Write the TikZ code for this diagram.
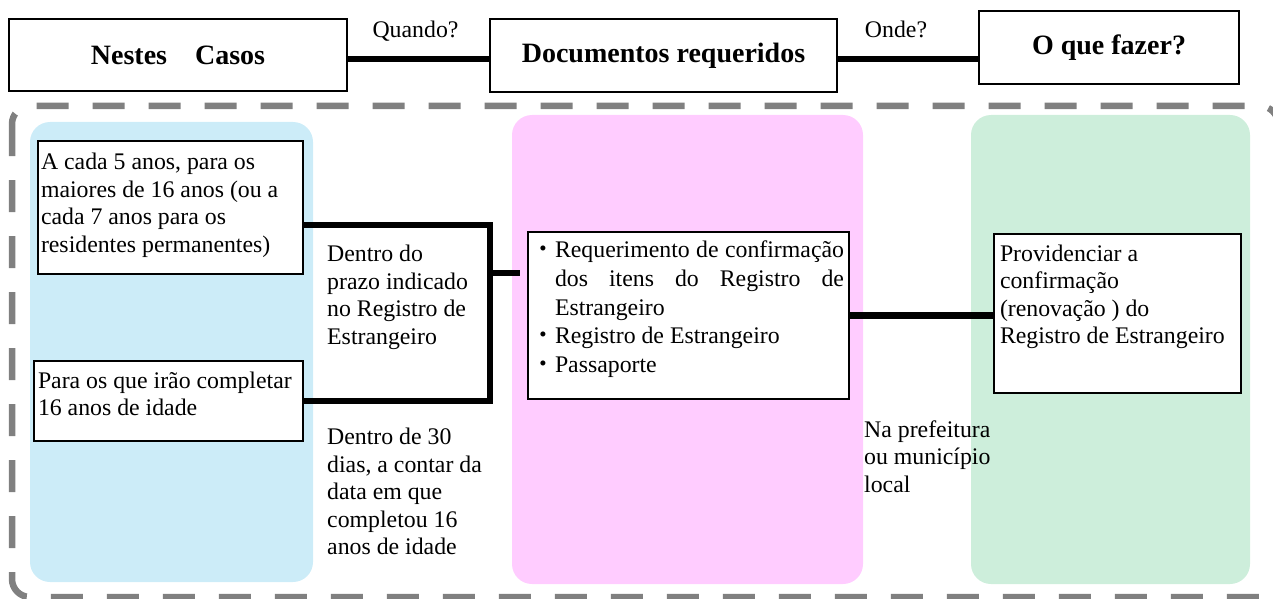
\documentclass[tikz,border=0pt]{standalone}
\usepackage{fontspec}
\setmainfont{Liberation Serif}
\newfontfamily\cjk{Noto Sans CJK JP}
\definecolor{bluep}{RGB}{204,236,248}
\definecolor{pinkp}{RGB}{255,204,255}
\definecolor{greenp}{RGB}{205,238,219}
\definecolor{dashgray}{RGB}{128,128,128}
\newcommand\myBody{\fontsize{23.8pt}{27.5pt}\selectfont\hyphenpenalty=10000\relax}
\newcommand\myDoc{\fontsize{23.8pt}{28.8pt}\selectfont\hyphenpenalty=10000\relax}
\newcommand\myHead{\fontsize{28pt}{32pt}\selectfont\bfseries}
\newcommand\bstr[1]{\rule[-#1pt]{0pt}{#1pt}}
\newcommand\bul{\leavevmode\llap{{\cjk ・}}}
\tikzset{
  hdr/.style={draw, line width=1.3pt, fill=white, font=\myHead, inner sep=0pt, outer sep=0pt},
  bx/.style={draw, line width=1.3pt, fill=white, font=\myBody, align=flush left, inner ysep=0pt, outer sep=0pt},
  ft/.style={anchor=base west, inner sep=0pt, align=flush left, font=\myBody},
  lab/.style={anchor=base, inner sep=0pt, font=\myBody},
  conn/.style={line width=6.5pt, black},
  border/.style={draw=dashgray, line width=6.5pt, dash pattern=on 32pt off 24pt, rounded corners=18pt},
  panel/.style={rounded corners=20pt}
}
\begin{document}
\begin{tikzpicture}[x=1pt,y=-1pt]
\useasboundingbox (0,0) rectangle (1273,599);
% panels
\fill[bluep, panel] (30,122) rectangle (313,582);
\fill[pinkp, panel] (512,115) rectangle (863,584);
\fill[greenp, panel] (971,115) rectangle (1250,584);
% dashed frame
\draw[border] (12,106) rectangle (1278,597);
% header
\node[hdr, anchor=north west, minimum width=338pt, minimum height=72pt] (N) at (9,19) {Nestes\quad Casos};
\node[hdr, anchor=north west, minimum width=347pt, minimum height=73pt] (D) at (490,19) {Documentos requeridos};
\node[hdr, anchor=north west, minimum width=260pt, minimum height=73pt] (O) at (979,11) {O que fazer?};
\node[lab] (q) at (415.5,38) {Quando?};
\node[lab] (w) at (896,38) {Onde?};
\draw[conn] ([yshift=-4pt]N.east) -- ([yshift=-4pt]N.east -| D.west);
\draw[conn] ([yshift=-3.5pt]D.east) -- ([yshift=-3.5pt]D.east -| O.west);
% boxes
\node[bx, anchor=north west, text width=259pt, inner xsep=3pt, minimum height=133pt] (B1) at (38,141)
  {\strut A cada 5 anos, para os\\ maiores de 16 anos (ou a\\ cada 7 anos para os\\ residentes permanentes)\bstr{12.75}};
\node[bx, anchor=north west, text width=265pt, inner xsep=2pt, minimum height=80pt] (B2) at (34,361)
  {\strut\hspace{2pt}Para os que irão completar\\ \hspace*{2pt}16 anos de idade\bstr{17.75}};
\node[bx, anchor=north west, text width=311pt, inner xsep=5pt, minimum height=167pt, align=justify, font=\myDoc] (Doc) at (528,232)
  {\leftskip=22pt \strut\bul Requerimento de confirmação\linebreak dos itens do Registro de\linebreak Estrangeiro\par
   \bul Registro de Estrangeiro\par
   \bul Passaporte\bstr{20.8}\par};
\node[bx, anchor=north west, text width=235pt, inner xsep=6pt, minimum height=159pt] (Prov) at (994,234)
  {\strut Providenciar a\\ confirmação\\ (renovação ) do\\ Registro de Estrangeiro\bstr{41.75}};
% free texts
\node[ft, text width=200pt] (t1) at (327,261.5) {Dentro do\\ prazo indicado\\ no Registro de\\ Estrangeiro};
\node[ft, text width=200pt] (t2) at (327,444.5) {Dentro de 30\\ dias, a contar da\\ data em que\\ completou 16\\ anos de idade};
\node[ft, text width=160pt] (t3) at (864,437) {Na prefeitura\\ ou município\\ local};
% connectors
\coordinate (j1) at (490,225);
\coordinate (j2) at (490,401);
\coordinate (s1) at (490,273);
\coordinate (s2) at (520,273);
\draw[conn] (B1.east |- j1) -- (j1) -- (j2) -- (B2.east |- j2);
\draw[conn] (s1) -- (s2);
\draw[conn] (Doc.east) -- (Doc.east -| Prov.west);
\end{tikzpicture}
\end{document}
